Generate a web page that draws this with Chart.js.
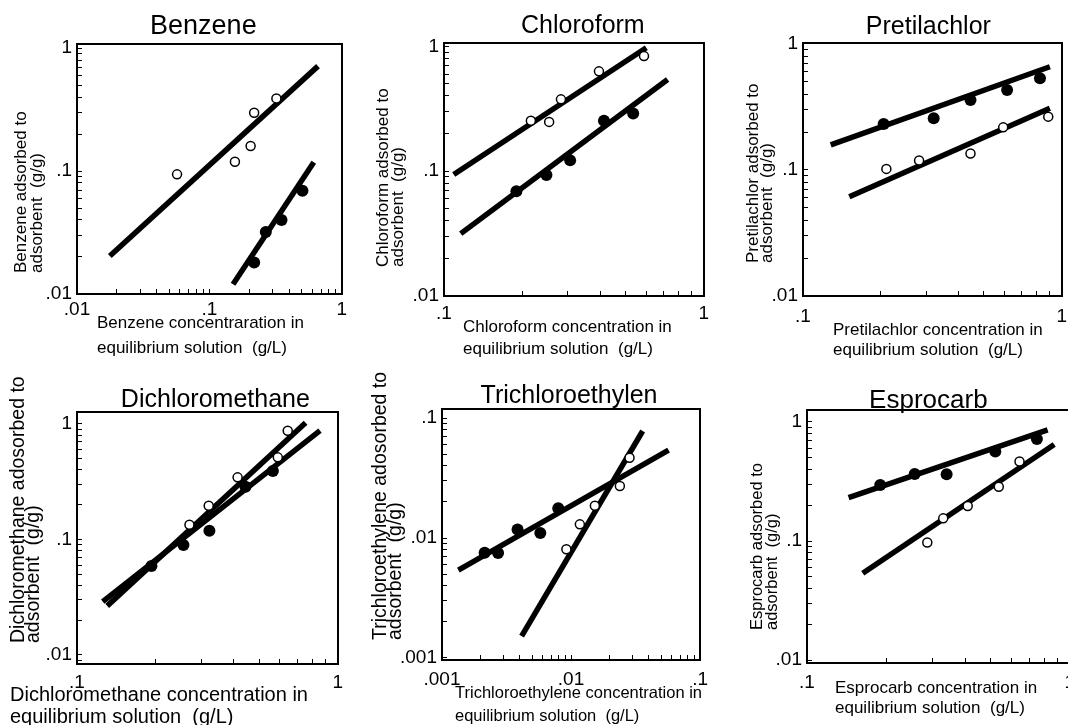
<!DOCTYPE html>
<html>
<head>
<meta charset="utf-8">
<title>Adsorption isotherms</title>
<script src="https://cdn.jsdelivr.net/npm/chart.js@4.4.1/dist/chart.umd.min.js"></script>
<style>
    html, body { margin: 0; padding: 0; background: #fff; overflow: hidden; }
    body { width: 1068px; height: 725px; position: relative; }
    canvas { position: absolute; }
</style>
</head>
<body>
<canvas id="benzene"></canvas>
<canvas id="chloroform"></canvas>
<canvas id="pretilachlor"></canvas>
<canvas id="dichloromethane"></canvas>
<canvas id="trichloroethylene"></canvas>
<canvas id="esprocarb"></canvas>
<script>
// Decade tick labels used on every log axis
const decadeValues = [0.001, 0.01, 0.1, 1];
const decadeLabels = ['.001', '.01', '.1', '1'];

// Each series: [concentration g/L, adsorbed g/g]
const benzeneOpen = [[0.057, 0.094], [0.156, 0.119], [0.205, 0.16], [0.218, 0.298], [0.321, 0.39]];
const benzeneFilled = [[0.218, 0.018], [0.267, 0.032], [0.351, 0.040], [0.505, 0.069]];
const benzeneOpenFit = [[0.0177, 0.0204], [0.662, 0.714]];
const benzeneFilledFit = [[0.151, 0.012], [0.615, 0.118]];

const chloroformOpen = [[0.216, 0.253], [0.254, 0.248], [0.282, 0.376], [0.395, 0.63], [0.589, 0.835]];
const chloroformFilled = [[0.19, 0.069], [0.248, 0.093], [0.306, 0.122], [0.413, 0.253], [0.535, 0.29]];
const chloroformOpenFit = [[0.109, 0.094], [0.601, 0.975]];
const chloroformFilledFit = [[0.116, 0.0316], [0.726, 0.543]];

const pretilachlorOpen = [[0.21, 0.102], [0.281, 0.119], [0.444, 0.135], [0.594, 0.218], [0.887, 0.265]];
const pretilachlorFilled = [[0.205, 0.232], [0.32, 0.257], [0.444, 0.36], [0.615, 0.432], [0.824, 0.535]];
const pretilachlorOpenFit = [[0.151, 0.0614], [0.9, 0.309]];
const pretilachlorFilledFit = [[0.128, 0.158], [0.9, 0.66]];

const dichloromethaneOpen = [[0.27, 0.134], [0.32, 0.196], [0.413, 0.345], [0.589, 0.514], [0.643, 0.875]];
const dichloromethaneFilled = [[0.193, 0.059], [0.256, 0.0895], [0.322, 0.119], [0.443, 0.286], [0.564, 0.392]];
const dichloromethaneOpenFit = [[0.1306, 0.0266], [0.753, 1.026]];
const dichloromethaneFilledFit = [[0.1255, 0.029], [0.855, 0.875]];

const trichloroOpen = [[0.0092, 0.00805], [0.0117, 0.013], [0.0153, 0.0186], [0.0239, 0.0271], [0.0284, 0.0467]];
const trichloroFilled = [[0.00214, 0.00755], [0.00272, 0.0075], [0.00385, 0.0118], [0.00578, 0.011], [0.00796, 0.0177]];
const trichloroOpenFit = [[0.00414, 0.00152], [0.0359, 0.078]];
const trichloroFilledFit = [[0.00134, 0.0054], [0.057, 0.054]];

const esprocarbOpen = [[0.287, 0.097], [0.33, 0.155], [0.409, 0.197], [0.537, 0.286], [0.644, 0.465]];
const esprocarbFilled = [[0.19, 0.296], [0.257, 0.366], [0.34, 0.363], [0.521, 0.564], [0.75, 0.72]];
const esprocarbOpenFit = [[0.163, 0.0535], [0.873, 0.648]];
const esprocarbFilledFit = [[0.144, 0.231], [0.824, 0.857]];

const FONT = "'Liberation Sans', Arial, Helvetica, sans-serif";
Chart.defaults.font.family = FONT;
Chart.defaults.color = '#000';

// Panel layout in page pixels: plot frame, canvas origin, title and caption placement
const panels = [
    {
        id: 'benzene', title: 'Benzene', titleSize: 27, titleDx: -6, titleGap: 6,
        frame: { L: 77, R: 342, T: 44, B: 294 }, canvasLeft: 0, canvasTop: 0, canvasBottom: 365,
        xRange: [0.01, 1], yRange: [0.01, 1.08], xTickPad: 9,
        xTitle: ['Benzene concentraration in', 'equilibrium solution  (g/L)'],
        yTitle: ['Benzene adsorbed to', 'adsorbent  (g/g)'],
        xCap: { left: 97, y: 323, lh: 25, size: 17 },
        yCap: { x: 21, bottom: 273, lh: 16, size: 17 },
        open: benzeneOpen, filled: benzeneFilled, openFit: benzeneOpenFit, filledFit: benzeneFilledFit
    },
    {
        id: 'chloroform', title: 'Chloroform', titleSize: 25, titleDx: 9, titleGap: 6,
        frame: { L: 444, R: 706, T: 43, B: 296 }, canvasLeft: 365, canvasTop: 0, canvasBottom: 365,
        xRange: [0.1, 1], yRange: [0.01, 1.063], xTickPad: 11,
        xTitle: ['Chloroform concentration in', 'equilibrium solution  (g/L)'],
        yTitle: ['Chloroform adsorbed to', 'adsorbent  (g/g)'],
        xCap: { left: 463, y: 327, lh: 22, size: 17 },
        yCap: { x: 383.5, bottom: 267, lh: 14.5, size: 17 },
        open: chloroformOpen, filled: chloroformFilled, openFit: chloroformOpenFit, filledFit: chloroformFilledFit
    },
    {
        id: 'pretilachlor', title: 'Pretilachlor', titleSize: 25, titleDx: -4, titleGap: 5,
        frame: { L: 803, R: 1067, T: 43, B: 296 }, canvasLeft: 725, canvasTop: 0, canvasBottom: 365,
        xRange: [0.1, 1], yRange: [0.01, 1.018], xTickPad: 14,
        xTitle: ['Pretilachlor concentration in', 'equilibrium solution  (g/L)'],
        yTitle: ['Pretilachlor adsorbed to', 'adsorbent  (g/g)'],
        xCap: { left: 833, y: 330, lh: 20.5, size: 17 },
        yCap: { x: 753, bottom: 263, lh: 14, size: 17 },
        open: pretilachlorOpen, filled: pretilachlorFilled, openFit: pretilachlorOpenFit, filledFit: pretilachlorFilledFit
    },
    {
        id: 'dichloromethane', title: 'Dichloromethane', titleSize: 25, titleDx: 8, titleGap: 1,
        frame: { L: 77, R: 341, T: 412, B: 664 }, canvasLeft: 0, canvasTop: 350, canvasBottom: 725,
        xRange: [0.1, 1], yRange: [0.00835, 1.27], xTickPad: 12,
        xTitle: ['Dichloromethane concentration in', 'equilibrium solution  (g/L)'],
        yTitle: ['Dichloromethane adosorbed to', 'adsorbent  (g/g)'],
        xCap: { left: 10, y: 695, lh: 22, size: 20 },
        yCap: { x: 19, bottom: 643, lh: 15, size: 19.5 },
        open: dichloromethaneOpen, filled: dichloromethaneFilled, openFit: dichloromethaneOpenFit, filledFit: dichloromethaneFilledFit
    },
    {
        id: 'trichloroethylene', title: 'Trichloroethylen', titleSize: 25, titleDx: -2, titleGap: 2,
        frame: { L: 442, R: 707, T: 409, B: 660 }, canvasLeft: 360, canvasTop: 350, canvasBottom: 725,
        xRange: [0.001, 0.1], yRange: [0.000962, 0.119], xTickPad: 13,
        xTitle: ['Trichloroethylene concentration in', 'equilibrium solution  (g/L)'],
        yTitle: ['Trichloroethylene adosorbed to', 'adsorbent  (g/g)'],
        xCap: { left: 455, y: 693, lh: 23, size: 16.5 },
        yCap: { x: 381, bottom: 640, lh: 15, size: 19.5 },
        open: trichloroOpen, filled: trichloroFilled, openFit: trichloroOpenFit, filledFit: trichloroFilledFit
    },
    {
        id: 'esprocarb', title: 'Esprocarb', titleSize: 26, titleDx: -10, titleGap: -2,
        frame: { L: 807, R: 1074, T: 410, B: 663 }, canvasLeft: 730, canvasTop: 350, canvasBottom: 725,
        xRange: [0.1, 1], yRange: [0.00944, 1.261], xTickPad: 13,
        xTitle: ['Esprocarb concentration in', 'equilibrium solution  (g/L)'],
        yTitle: ['Esprocarb adsorbed to', 'adsorbent  (g/g)'],
        xCap: { left: 835, y: 688, lh: 20, size: 17 },
        yCap: { x: 757, bottom: 630, lh: 15, size: 16.5 },
        open: esprocarbOpen, filled: esprocarbFilled, openFit: esprocarbOpenFit, filledFit: esprocarbFilledFit
    }
];

// Shift the built-in title sideways (titles are not centred on the plot in the original)
const titleShift = {
    id: 'titleShift',
    afterLayout(chart, args, opts) {
        const t = chart.titleBlock;
        if (t && opts.dx) {
            t.left += opts.dx;
            t.right += opts.dx;
        }
    }
};

// Axis captions: left-aligned two-line blocks like the original figure
const axisCaptions = {
    id: 'axisCaptions',
    afterDraw(chart, args, opts) {
        const ctx = chart.ctx;
        ctx.save();
        ctx.fillStyle = '#000';
        ctx.textAlign = 'left';
        ctx.textBaseline = 'middle';
        ctx.font = opts.x.size + 'px ' + FONT;
        opts.x.lines.forEach((line, i) => ctx.fillText(line, opts.x.left, opts.x.y + i * opts.x.lh));
        ctx.translate(opts.y.x, opts.y.bottom);
        ctx.rotate(-Math.PI / 2);
        ctx.font = opts.y.size + 'px ' + FONT;
        opts.y.lines.forEach((line, i) => ctx.fillText(line, 0, i * opts.y.lh));
        ctx.restore();
    }
};

function toPoints(pairs) {
    return pairs.map(([x, y]) => ({ x, y }));
}

// 1..9 per decade, inside [min, max]
function logTicks(min, max) {
    const out = [];
    for (let e = Math.floor(Math.log10(min)); e <= Math.ceil(Math.log10(max)); e++) {
        for (let m = 1; m <= 9; m++) {
            const v = m * Math.pow(10, e);
            if (v >= min * 0.9999 && v <= max * 1.0001) out.push({ value: v });
        }
    }
    return out;
}

function tickLabel(v) {
    const i = decadeValues.findIndex(d => Math.abs(d - v) < d * 1e-6);
    return i >= 0 ? decadeLabels[i] : '';
}

function logAxis(range, extra) {
    return Object.assign({
        type: 'logarithmic',
        min: range[0],
        max: range[1],
        afterBuildTicks: scale => { scale.ticks = logTicks(range[0], range[1]); },
        grid: { drawOnChartArea: false, drawTicks: true, tickLength: -5, color: '#000', lineWidth: 1 },
        border: { display: true, color: '#000', width: 2 },
        title: { display: false }
    }, extra);
}

function frameAxis(axis, position) {
    return {
        type: 'linear', axis: axis, position: position,
        ticks: { display: false },
        grid: { display: false },
        border: { display: true, color: '#000', width: 2 },
        afterFit: scale => { if (axis === 'x') scale.height = 0; else scale.width = 0; }
    };
}

panels.forEach(p => {
    const f = p.frame;
    const titleH = 22 + 4 + p.titleGap;
    const padTop = f.T - titleH - p.canvasTop;
    const yW = f.L - p.canvasLeft;
    const xH = p.canvasBottom - f.B;
    const canvas = document.getElementById(p.id);
    canvas.width = f.R - p.canvasLeft + 14;
    canvas.height = p.canvasBottom - p.canvasTop;
    canvas.style.left = p.canvasLeft + 'px';
    canvas.style.top = p.canvasTop + 'px';

    new Chart(canvas, {
        type: 'scatter',
        data: {
            datasets: [
                { data: toPoints(p.openFit), showLine: true, borderColor: '#000', borderWidth: 5.5, pointRadius: 0, order: 2 },
                { data: toPoints(p.filledFit), showLine: true, borderColor: '#000', borderWidth: 5.5, pointRadius: 0, order: 2 },
                { data: toPoints(p.filled), pointRadius: 6, backgroundColor: '#000', borderColor: '#000', borderWidth: 0, order: 1 },
                { data: toPoints(p.open), pointRadius: 4.5, backgroundColor: '#fff', borderColor: '#000', borderWidth: 1.5, order: 0 }
            ]
        },
        options: {
            responsive: false,
            animation: false,
            events: [],
            layout: { padding: { left: 0, top: padTop, right: 14, bottom: 0 } },
            plugins: {
                legend: { display: false },
                tooltip: { enabled: false },
                title: {
                    display: true,
                    text: p.title,
                    fullSize: false,
                    color: '#000',
                    font: { size: p.titleSize, weight: 'normal', lineHeight: '22px' },
                    padding: { top: 4, bottom: p.titleGap }
                },
                titleShift: { dx: p.titleDx },
                axisCaptions: {
                    x: Object.assign({ lines: p.xTitle }, p.xCap, { left: p.xCap.left - p.canvasLeft, y: p.xCap.y - p.canvasTop }),
                    y: Object.assign({ lines: p.yTitle }, p.yCap, { x: p.yCap.x - p.canvasLeft, bottom: p.yCap.bottom - p.canvasTop })
                }
            },
            scales: {
                x: logAxis(p.xRange, {
                    position: 'bottom',
                    afterFit: scale => { scale.height = xH; },
                    ticks: {
                        autoSkip: false, maxRotation: 0, minRotation: 0,
                        padding: p.xTickPad, font: { size: 19 },
                        callback: v => tickLabel(v)
                    }
                }),
                y: logAxis(p.yRange, {
                    position: 'left',
                    afterFit: scale => { scale.width = yW; },
                    ticks: {
                        autoSkip: false, padding: 10, font: { size: 19 },
                        callback: v => tickLabel(v)
                    }
                }),
                x2: frameAxis('x', 'top'),
                y2: frameAxis('y', 'right')
            }
        },
        plugins: [titleShift, axisCaptions]
    });
});
</script>
</body>
</html>
